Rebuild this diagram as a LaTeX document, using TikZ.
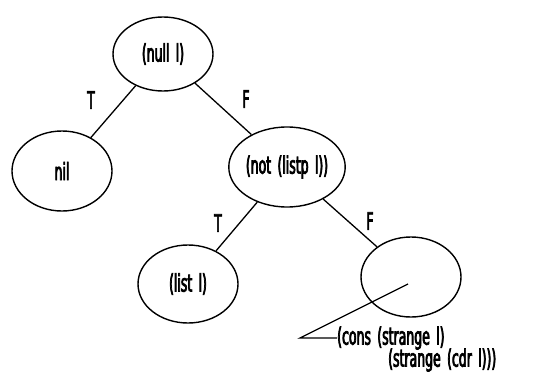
\documentclass[tikz,border=0pt]{standalone}
\usepackage{fontspec}
\setmainfont{DejaVu Sans}[FakeStretch=0.52,FakeBold=3,WordSpace=1.6]
\usetikzlibrary{shapes.geometric}
\begin{document}
\begin{tikzpicture}[x=1pt,y=-1pt,
  every node/.style={font=\fontsize{24}{26}\selectfont},
  ell/.style={draw,ellipse,line width=1.4pt,minimum width=100pt,minimum height=#1,inner sep=0pt},
  ell/.default=78pt,
  edge/.style={line width=1.3pt},
  lab/.style={inner sep=0pt}]
\useasboundingbox (0,0) rectangle (541,372);
\node[ell=74pt] (null) at (163,54) {(null l)};
\node[ell=80pt] (nil) at (62,171) {nil};
\node[ell=80pt] (not) at (287,167) {(not (listp l))};
\node[ell=78pt] (list) at (188,284) {(list l)};
\node[ell=80pt] (empty) at (411,277) {};
\draw[edge] (null) -- (nil);
\draw[edge] (null) -- (not);
\draw[edge] (not) -- (list);
\draw[edge] (not) -- (empty);
\node[lab] (t1) at (91,100) {T};
\node[lab] (f1) at (246,99) {F};
\node[lab] (t2) at (218,223) {T};
\node[lab] (f2) at (370,221) {F};
\coordinate (p) at (408,284);
\coordinate (q) at (300,338);
\node[lab,anchor=west] (c1) at (337,338) {(cons (strange l)};
\node[lab,anchor=west] (c2) at (388,360) {(strange (cdr l)))};
\draw[edge] (p) -- (q) -- (c1.west);
\end{tikzpicture}
\end{document}
